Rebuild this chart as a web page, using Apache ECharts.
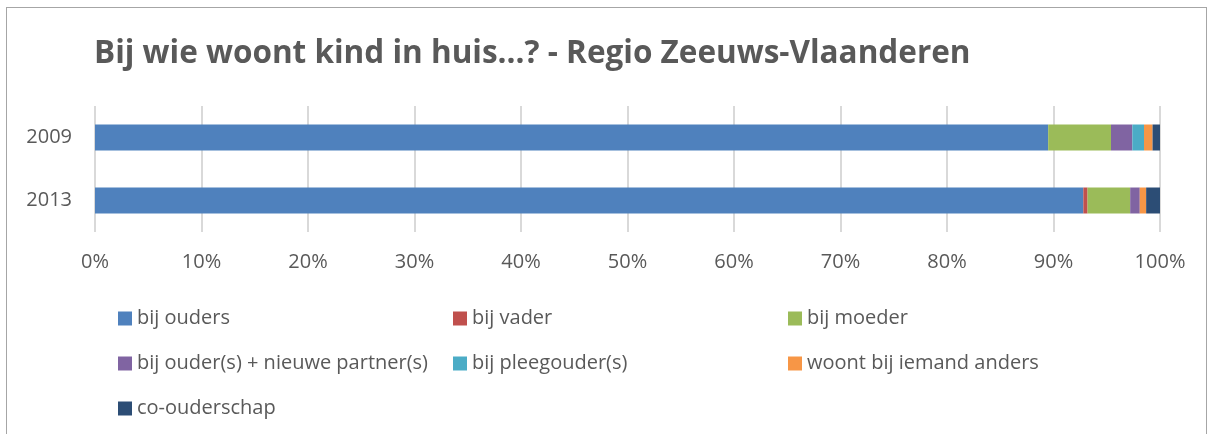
<!DOCTYPE html>
<html>
<head>
<meta charset="utf-8">
<script src="https://cdn.jsdelivr.net/npm/echarts@6/dist/echarts.min.js"></script>
<style>
    html, body { margin: 0; padding: 0; background: #fff; }
    #frame { position: absolute; left: 6px; top: 7px; width: 1201px; height: 440px; border: 1px solid #a6a6a6; box-sizing: border-box; }
    #chart { position: absolute; left: 0; top: 0; width: 1213px; height: 434px; }
</style>
</head>
<body>
<div id="frame"></div>
<div id="chart"></div>
<script>
// categorieën en waarden (percentages)
const years = ['2009', '2013'];
const seriesNames = [
    'bij ouders',
    'bij vader',
    'bij moeder',
    'bij ouder(s) + nieuwe partner(s)',
    'bij pleegouder(s)',
    'woont bij iemand anders',
    'co-ouderschap'
];
const bijOuders = [89.5, 92.8];
const bijVader = [0, 0.4];
const bijMoeder = [5.9, 4.0];
const bijNieuwePartner = [2.0, 0.9];
const bijPleegouder = [1.1, 0];
const iemandAnders = [0.8, 0.6];
const coOuderschap = [0.7, 1.3];
const colors = ['#4F81BD', '#C0504D', '#9BBB59', '#8064A2', '#4BACC6', '#F79646', '#2C4D75'];

const seriesValues = [bijOuders, bijVader, bijMoeder, bijNieuwePartner, bijPleegouder, iemandAnders, coOuderschap];

const chart = echarts.init(document.getElementById('chart'));

const option = {
    animation: false,
    title: {
        text: 'Bij wie woont kind in huis...? - Regio Zeeuws-Vlaanderen',
        left: 89,
        top: 33,
        textStyle: {
            fontFamily: 'Open Sans',
            fontSize: 31.5,
            fontWeight: 'bold',
            color: '#595959'
        }
    },
    legend: {
        left: 113,
        top: 296,
        width: 1050,
        itemWidth: 14,
        itemHeight: 14,
        itemGap: 10,
        icon: 'rect',
        data: seriesNames,
        textStyle: {
            fontFamily: 'Open Sans',
            fontSize: 20,
            color: '#595959',
            width: 306,
            lineHeight: 35
        }
    },
    grid: {
        left: 95,
        right: 53,
        top: 106,
        bottom: 202
    },
    xAxis: {
        type: 'value',
        min: 0,
        max: 100,
        interval: 10,
        axisLine: { show: false },
        axisTick: { show: false },
        splitLine: { lineStyle: { color: '#D9D9D9', width: 2 } },
        axisLabel: {
            formatter: '{value}%',
            fontFamily: 'Open Sans',
            fontSize: 20,
            color: '#595959',
            margin: 20
        }
    },
    yAxis: {
        type: 'category',
        inverse: true,
        data: years,
        axisLine: { show: false },
        axisTick: { show: false },
        axisLabel: {
            fontFamily: 'Open Sans',
            fontSize: 20,
            color: '#595959',
            margin: 23
        }
    },
    series: seriesNames.map((name, i) => ({
        name: name,
        type: 'bar',
        stack: 'totaal',
        barWidth: 26,
        itemStyle: { color: colors[i] },
        data: seriesValues[i]
    }))
};

chart.setOption(option);
</script>
</body>
</html>
